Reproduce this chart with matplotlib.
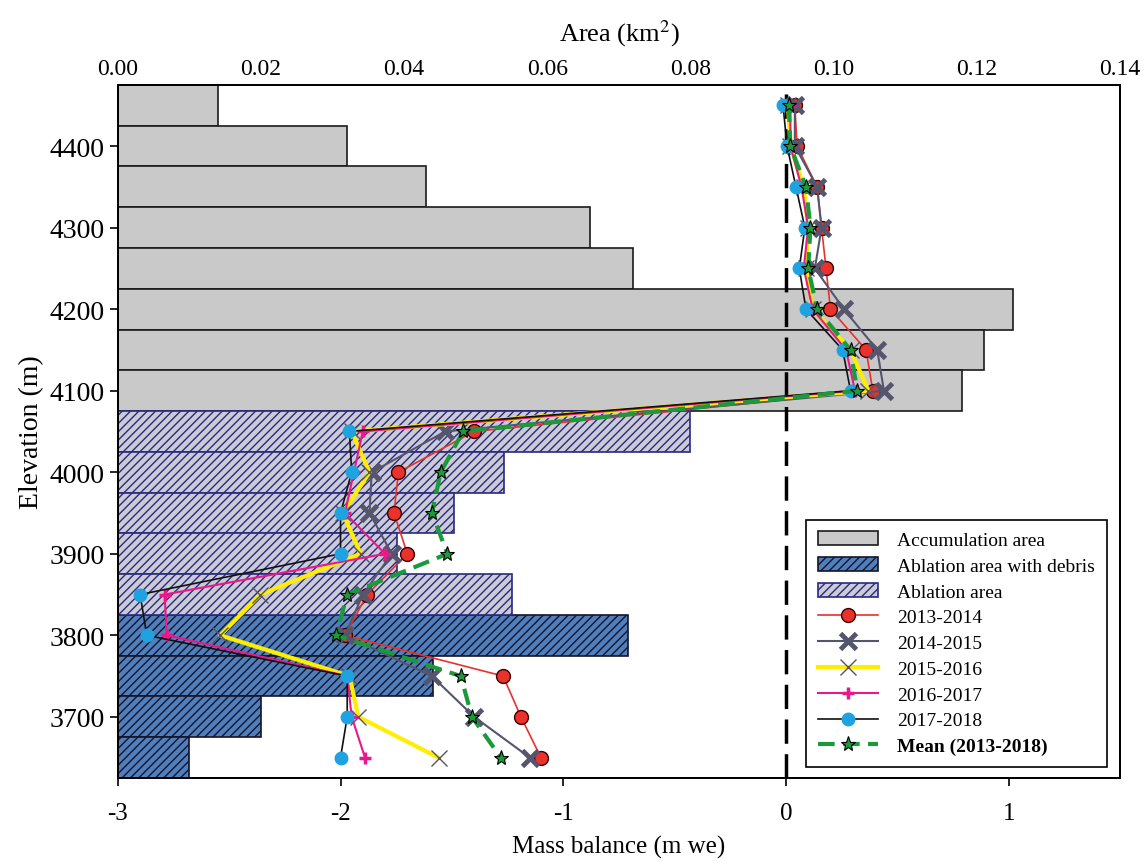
import matplotlib
matplotlib.use("Agg")
import matplotlib.pyplot as plt
import numpy as np

plt.rcParams['font.family'] = ['Liberation Serif', 'DejaVu Serif']
plt.rcParams['hatch.linewidth'] = 1.0
plt.rcParams['mathtext.fontset'] = 'stix'
plt.rcParams['axes.unicode_minus'] = False

# elevation bands (band centre, m) and their area (km2)
band_elev = [4450, 4400, 4350, 4300, 4250, 4200, 4150, 4100,
             4050, 4000, 3950, 3900, 3850,
             3800, 3750, 3700, 3650]
band_area = [0.014, 0.032, 0.043, 0.066, 0.072, 0.125, 0.121, 0.118,
             0.080, 0.054, 0.047, 0.039, 0.055,
             0.0713, 0.044, 0.020, 0.010]
band_type = ['acc'] * 8 + ['abl'] * 5 + ['deb'] * 4

# mass balance profiles (m we), same elevation order
mb_2013 = [0.04, 0.05, 0.14, 0.16, 0.18, 0.20, 0.36, 0.39,
           -1.40, -1.74, -1.76, -1.70, -1.88, -1.98, -1.27, -1.19, -1.10]
mb_2014 = [0.04, 0.04, 0.14, 0.16, 0.13, 0.26, 0.41, 0.44,
           -1.53, -1.86, -1.87, -1.77, -1.90, -1.98, -1.59, -1.40, -1.15]
mb_2015 = [0.01, 0.02, 0.08, 0.10, 0.09, 0.12, 0.29, 0.37,
           -1.95, -1.87, -1.99, -1.91, -2.36, -2.54, -1.96, -1.92, -1.56]
mb_2016 = [0.02, 0.02, 0.07, 0.10, 0.08, 0.12, 0.27, 0.31,
           -1.90, -1.94, -1.98, -1.80, -2.79, -2.78, -1.97, -1.95, -1.89]
mb_2017 = [-0.013, 0.005, 0.045, 0.085, 0.06, 0.09, 0.255, 0.29,
           -1.96, -1.95, -2.00, -2.00, -2.90, -2.87, -1.97, -1.97, -2.00]
mb_mean = [0.013, 0.02, 0.09, 0.11, 0.10, 0.14, 0.29, 0.32,
           -1.45, -1.55, -1.59, -1.52, -1.97, -2.02, -1.46, -1.41, -1.28]

fig = plt.figure(figsize=(11.44, 8.62), dpi=100)
ax = fig.add_axes([0.103, 0.0963, 0.876, 0.804])
ax2 = ax.twiny()

# area bars on the top axis
styles = {
    'acc': dict(facecolor='#c9c9c9', edgecolor='#1a1a1a', hatch=None, label='Accumulation area'),
    'deb': dict(facecolor='#4f7fbc', edgecolor='#15152a', hatch='////', label='Ablation area with debris'),
    'abl': dict(facecolor='#cbcbd6', edgecolor='#2a2a80', hatch='////', label='Ablation area'),
}
bar_handles = {}
for kind in ['acc', 'deb', 'abl']:
    idx = [i for i, t in enumerate(band_type) if t == kind]
    st = styles[kind]
    b = ax2.barh([band_elev[i] for i in idx], [band_area[i] for i in idx], height=50,
                 facecolor=st['facecolor'], edgecolor=st['edgecolor'], hatch=st['hatch'],
                 linewidth=1.2, label=st['label'])
    bar_handles[kind] = b

ax2.set_xlim(0, 0.14)
ax2.set_xticks(np.arange(0, 0.141, 0.02))
ax2.set_xticklabels(['%.2f' % v for v in np.arange(0, 0.141, 0.02)])
ax2.tick_params(axis='x', length=0, labelsize=17, pad=4)
ax2.set_xlabel('Area (km$^2$)', fontsize=19, labelpad=13)

# mass balance lines on the bottom axis
ax.set_zorder(ax2.get_zorder() + 1)
ax.patch.set_visible(False)
ax.axvline(0, color='black', ls=(0, (7, 3)), lw=2.5, zorder=1)

l1, = ax.plot(mb_2013, band_elev, color='#e8322b', lw=1.2, marker='o', ms=10,
              mfc='#e8322b', mec='#3a0000', mew=1.0, label='2013-2014')
l2, = ax.plot(mb_2014, band_elev, color='#55556e', lw=1.5, marker='x', ms=11,
              mew=3.5, label='2014-2015')
l3, = ax.plot(mb_2015, band_elev, color='#ffee00', lw=3, marker='x', ms=11,
              mec='#555566', mew=1.0, label='2015-2016')
l4, = ax.plot(mb_2016, band_elev, color='#e8198b', lw=1.5, marker='+', ms=9,
              mew=2.5, label='2016-2017')
l5, = ax.plot(mb_2017, band_elev, color='#111111', lw=1.2, marker='o', ms=9,
              mfc='#1fa3e0', mec='#1fa3e0', label='2017-2018')
l6, = ax.plot(mb_mean, band_elev, color='#1a9a3a', lw=3, ls=(0, (4, 2)), marker='*', ms=11,
              mfc='#1a9a3a', mec='black', mew=0.8, label='Mean (2013-2018)')

ax.set_xlim(-3, 1.5)
ax.set_ylim(3625, 4475)
ax.set_xticks([-3, -2, -1, 0, 1])
ax.set_yticks(np.arange(3700, 4401, 100))
ax.tick_params(axis='both', direction='out', length=6, width=1.2)
ax.tick_params(axis='x', pad=11, labelsize=18)
ax.tick_params(axis='y', labelsize=20)
ax.set_xlabel('Mass balance (m we)', fontsize=18, labelpad=8)
ax.set_ylabel('Elevation (m)', fontsize=20)
for sp in list(ax.spines.values()) + list(ax2.spines.values()):
    sp.set_linewidth(1.3)

handles = [bar_handles['acc'], bar_handles['deb'], bar_handles['abl'], l1, l2, l3, l4, l5, l6]
leg = ax.legend(handles=handles, loc='lower right', bbox_to_anchor=(0.987, 0.016),
                borderaxespad=0, fontsize=14, frameon=True, fancybox=False,
                edgecolor='black', framealpha=1, borderpad=0.6, labelspacing=0.42,
                handlelength=3.1, handletextpad=1.0)
leg.get_frame().set_linewidth(1.2)
leg.get_texts()[-1].set_fontweight('bold')

fig.savefig('out.png', dpi=100)
